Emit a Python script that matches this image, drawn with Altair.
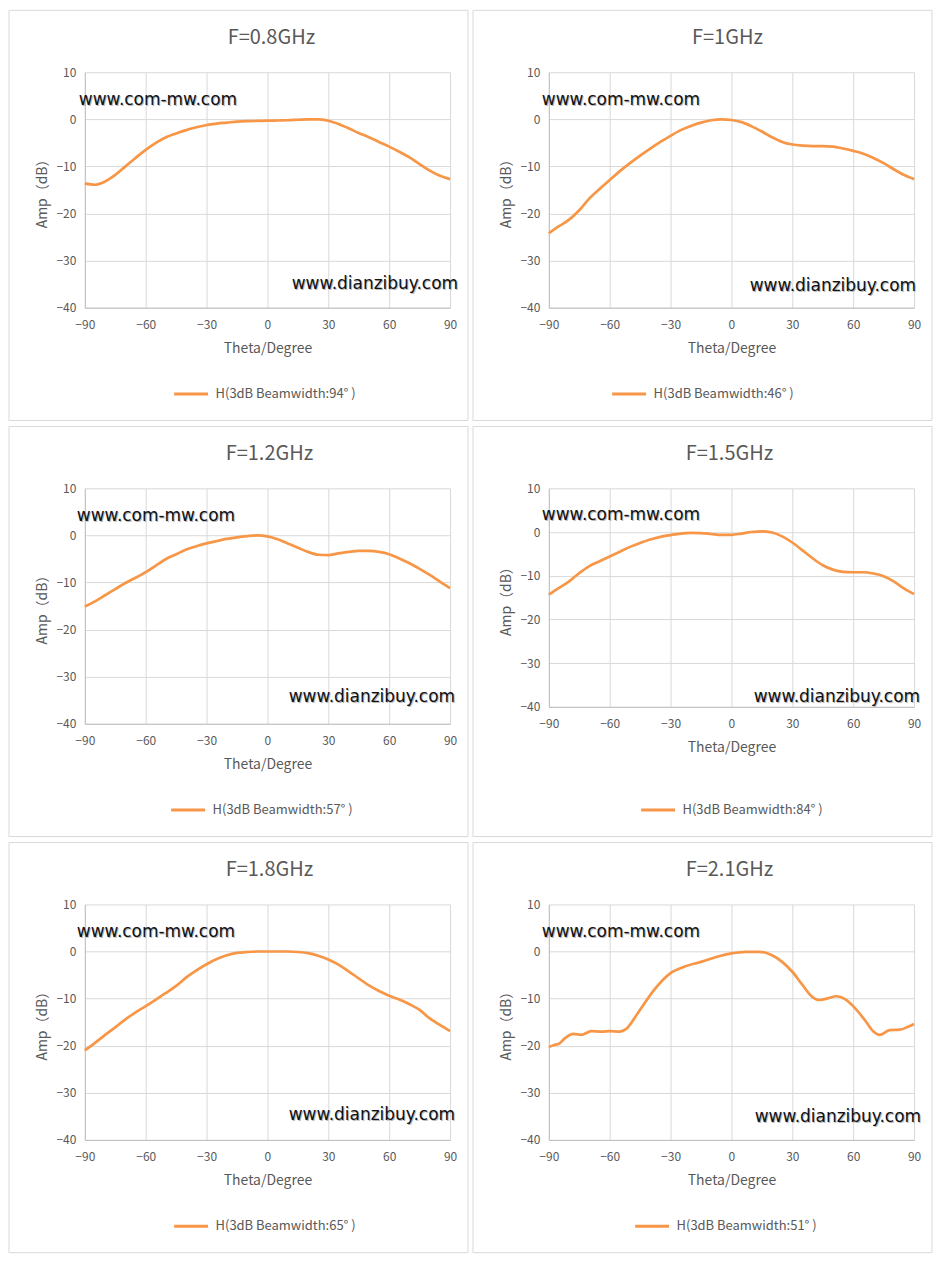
import altair as alt
import pandas as pd

# ---------------- data ----------------
titles = ["F=0.8GHz", "F=1GHz", "F=1.2GHz", "F=1.5GHz", "F=1.8GHz", "F=2.1GHz"]
legend_labels = [
    "H(3dB Beamwidth:94° )",
    "H(3dB Beamwidth:46° )",
    "H(3dB Beamwidth:57° )",
    "H(3dB Beamwidth:84° )",
    "H(3dB Beamwidth:65° )",
    "H(3dB Beamwidth:51° )",
]

theta_step5 = [-90, -85, -80, -75, -70, -65, -60, -55, -50, -45, -40, -35, -30, -25, -20, -15, -10, -5,
               0, 5, 10, 15, 20, 25, 30, 35, 40, 45, 50, 55, 60, 65, 70, 75, 80, 85, 90]

amp_08 = [-13.6, -13.9, -13.2, -11.8, -10.0, -8.2, -6.5, -5.0, -3.8, -3.0, -2.3, -1.7, -1.2, -0.9, -0.7, -0.5,
          -0.4, -0.35, -0.3, -0.25, -0.2, -0.1, 0.0, 0.0, -0.3, -1.0, -1.9, -2.9, -3.8, -4.8, -5.8, -6.9,
          -8.1, -9.5, -10.9, -12.0, -12.7]

amp_10 = [-24.2, -22.7, -21.3, -19.3, -16.8, -14.8, -12.9, -11.0, -9.3, -7.7, -6.2, -4.8, -3.5, -2.3, -1.4,
          -0.7, -0.2, 0.0, -0.15, -0.6, -1.5, -2.6, -3.8, -4.8, -5.35, -5.6, -5.7, -5.7, -5.8, -6.2, -6.7,
          -7.3, -8.2, -9.3, -10.6, -11.8, -12.7]

amp_12 = [-15.1, -14.0, -12.7, -11.4, -10.1, -9.0, -7.8, -6.4, -5.0, -4.0, -3.0, -2.3, -1.7, -1.2, -0.75,
          -0.4, -0.15, 0.0, -0.2, -0.8, -1.7, -2.6, -3.5, -4.1, -4.2, -3.8, -3.5, -3.3, -3.3, -3.5, -4.0,
          -4.9, -5.9, -7.1, -8.4, -9.8, -11.2]

amp_15 = [-14.3, -12.8, -11.3, -9.4, -7.8, -6.7, -5.6, -4.5, -3.4, -2.5, -1.7, -1.1, -0.7, -0.35, -0.2,
          -0.25, -0.45, -0.65, -0.65, -0.35, 0.0, 0.15, -0.1, -1.0, -2.4, -4.2, -6.0, -7.6, -8.6, -9.1,
          -9.2, -9.2, -9.5, -10.1, -11.3, -12.9, -14.2]

amp_18 = [-21.0, -19.4, -17.7, -16.1, -14.4, -12.9, -11.6, -10.2, -8.8, -7.3, -5.5, -4.0, -2.7, -1.6, -0.8,
          -0.3, -0.1, 0.0, 0.0, 0.0, 0.0, -0.1, -0.35, -0.9, -1.7, -2.8, -4.2, -5.7, -7.2, -8.4, -9.4,
          -10.2, -11.2, -12.4, -14.2, -15.6, -16.9]

theta_21 = [-90, -87, -85, -82, -78, -74, -69, -64, -60, -55, -52, -46, -38, -30, -23, -15, -7, 0, 7, 14,
            20, 25, 30, 35, 40, 43, 47, 52, 56, 60, 66, 70, 73, 78, 83, 87, 90]
amp_21 = [-20.3, -19.8, -19.6, -18.4, -17.5, -17.7, -16.9, -17.0, -16.9, -17.0, -16.5, -13.0, -8.1, -4.6,
          -3.2, -2.2, -1.1, -0.4, -0.07, -0.07, -0.8, -2.2, -4.3, -7.1, -9.7, -10.3, -10.0, -9.5, -10.1,
          -11.6, -14.7, -17.0, -17.7, -16.7, -16.6, -16.0, -15.4]

thetas = [theta_step5, theta_step5, theta_step5, theta_step5, theta_step5, theta_21]
amps = [amp_08, amp_10, amp_12, amp_15, amp_18, amp_21]

x_ticks = [-90, -60, -30, 0, 30, 60, 90]
y_ticks = [-40, -30, -20, -10, 0, 10]

watermark_top = "www.com-mw.com"
watermark_bottom = "www.dianzibuy.com"
wm_top_y = [4.0, 4.0, 4.2, 3.9, 4.2, 4.1]
wm_bot_y = [-35.0, -35.4, -34.4, -37.8, -34.8, -35.2]

# ---------------- styling ----------------
ORANGE = "#F79646"
TEXT = "#595959"
GRID = "#D9D9D9"
FONT = "Noto Sans CJK SC"
WM_FONT = "DejaVu Sans"

W = 366          # plot width
H = 236          # plot height
H_SHORT = 219    # the 1.5 GHz panel has a shorter plot area
plot_heights = [H, H, H, H_SHORT, H, H]
legend_x = [88, 62, 85, 91, 88, 85]
title_dx = [4, -4, 2, -2, 2, -2]
wm_top_dx = [-6, -7, -8, -7, -8, -7]
wm_bot_dx = [8, 2, 5, 6, 5, 7]

XS = alt.Scale(domain=[-90, 90], nice=False, zero=False)
YS = alt.Scale(domain=[-40, 10], nice=False, zero=False)


def panel(i):
    h = plot_heights[i]
    df = pd.DataFrame({"theta": thetas[i], "amp": amps[i], "series": legend_labels[i]})
    one = pd.DataFrame({"k": [0]})

    x_enc = alt.X(
        "theta:Q", scale=XS,
        axis=alt.Axis(values=x_ticks, title="Theta/Degree", format="d"),
    )
    y_enc = alt.Y(
        "amp:Q", scale=YS,
        axis=alt.Axis(values=y_ticks, title="Amp（dB）", format="d"),
    )

    box = alt.Chart(one).mark_rect(
        filled=False, stroke=GRID, strokeWidth=1
    ).encode(
        x=alt.value(-76), x2=alt.value(W + 18),
        y=alt.value(-62), y2=alt.value(H + 113),
    )

    title = alt.Chart(one).mark_text(
        font=FONT, fontSize=20, color=TEXT, align="center", baseline="middle"
    ).encode(
        x=alt.value(W / 2 + title_dx[i]), y=alt.value(-34), text=alt.value(titles[i]),
    )

    line = alt.Chart(df).mark_line(
        interpolate="monotone", strokeWidth=2.7
    ).encode(
        x=x_enc,
        y=y_enc,
        color=alt.Color(
            "series:N",
            scale=alt.Scale(range=[ORANGE]),
            legend=alt.Legend(
                title=None,
                orient="none",
                legendX=legend_x[i],
                legendY=H + 68,
                symbolType="stroke",
                symbolSize=1156,
                symbolStrokeWidth=3,
                labelFont=FONT,
                labelFontSize=13,
                labelColor=TEXT,
                labelOffset=6,
                padding=0,
            ),
        ),
    )

    top_df = pd.DataFrame({"tx": [-90], "ty": [wm_top_y[i]], "label": [watermark_top]})
    bot_df = pd.DataFrame({"tx": [90], "ty": [wm_bot_y[i]], "label": [watermark_bottom]})

    def wm(data, align, dx, color, off):
        return alt.Chart(data).mark_text(
            align=align, baseline="middle", font=WM_FONT, fontSize=17,
            color=color, dx=dx + off, dy=off,
        ).encode(
            x=alt.X("tx:Q", scale=XS),
            y=alt.Y("ty:Q", scale=YS),
            text="label:N",
        )

    layers = [
        line,
        wm(top_df, "left", wm_top_dx[i], "#B8B8B8", 1),
        wm(top_df, "left", wm_top_dx[i], "#111111", 0),
        wm(bot_df, "right", wm_bot_dx[i], "#B8B8B8", 1),
        wm(bot_df, "right", wm_bot_dx[i], "#111111", 0),
        title,
        box,
    ]
    return alt.layer(*layers).properties(width=W, height=h)


chart = alt.concat(
    *[panel(i) for i in range(6)],
    columns=2,
    spacing=alt.RowColnumber(row=181, column=99),
    bounds="flush",
).resolve_scale(
    color="independent"
).resolve_legend(
    color="independent"
).properties(
    padding=0
).configure_view(
    stroke=None
).configure_axis(
    grid=True,
    gridColor=GRID,
    gridWidth=1,
    domainColor="#BFBFBF",
    domainWidth=1,
    ticks=False,
    labelFlush=False,
    labelFont=FONT,
    labelFontSize=12,
    labelColor=TEXT,
    titleFont=FONT,
    titleFontSize=14,
    titleFontWeight="normal",
    titleColor=TEXT,
).configure_axisX(
    labelPadding=12,
    titlePadding=11,
).configure_axisY(
    labelPadding=9,
    titlePadding=6,
).configure_legend(
    labelLimit=300,
)

chart.save("out.html", embed_options={"renderer": "svg", "actions": False})
